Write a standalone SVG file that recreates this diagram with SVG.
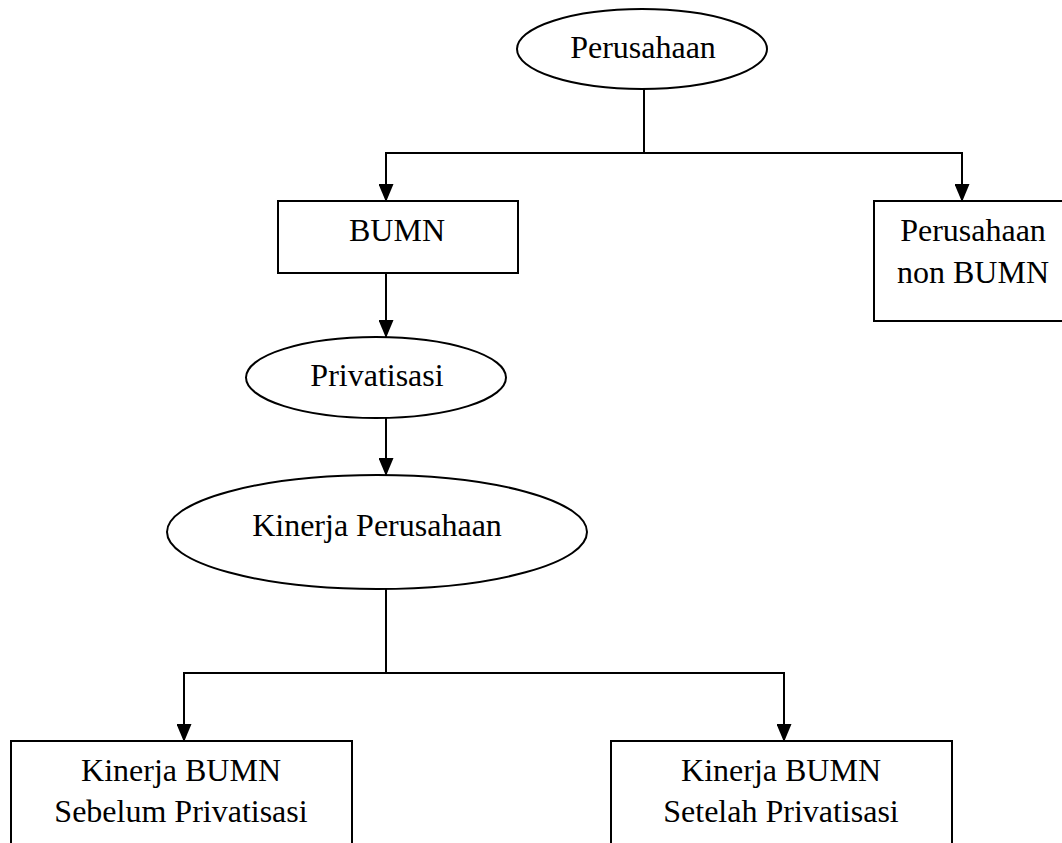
<svg xmlns="http://www.w3.org/2000/svg" width="1062" height="843" viewBox="0 0 1062 843">
<style>
.s{fill:#fff;stroke:#000;stroke-width:2}
.t{font-family:"Liberation Serif","Times New Roman",serif;font-size:32px;fill:#000;text-anchor:middle}
.c{fill:none;stroke:#000;stroke-width:2}
.a{fill:none;stroke:#000;stroke-width:2;marker-end:url(#ah)}
</style>
<defs>
<marker id="ah" markerUnits="userSpaceOnUse" markerWidth="18" markerHeight="15" viewBox="0 0 18 15" refX="17" refY="7.5" orient="auto">
<path d="M0,0 L18,7.5 L0,15 Z" fill="#000"/>
</marker>
</defs>
<rect width="1062" height="843" fill="#fff"/>
<g id="connectors">
<path class="c" d="M644,89 V153"/>
<path class="c" d="M385,153 H963"/>
<path class="a" d="M386,153 V201"/>
<path class="a" d="M962,153 V201"/>
<path class="a" d="M386,273 V337"/>
<path class="a" d="M386,418 V475"/>
<path class="c" d="M386,589 V673"/>
<path class="c" d="M183,673 H785"/>
<path class="a" d="M184,673 V741"/>
<path class="a" d="M784,673 V741"/>
</g>
<g id="perusahaan">
<ellipse class="s" cx="642" cy="49" rx="125" ry="40"/>
<text class="t" x="643" y="58">Perusahaan</text>
</g>
<g id="bumn">
<rect class="s" x="278" y="201" width="240" height="72"/>
<text class="t" x="397" y="241">BUMN</text>
</g>
<g id="non-bumn">
<rect class="s" x="874" y="201" width="200" height="120"/>
<text class="t" x="973" y="241">Perusahaan</text>
<text class="t" x="973" y="283">non BUMN</text>
</g>
<g id="privatisasi">
<ellipse class="s" cx="376" cy="377.5" rx="130" ry="40.5"/>
<text class="t" x="377" y="386">Privatisasi</text>
</g>
<g id="kinerja-perusahaan">
<ellipse class="s" cx="377" cy="532" rx="210" ry="57"/>
<text class="t" x="377" y="536">Kinerja Perusahaan</text>
</g>
<g id="sebelum">
<rect class="s" x="11" y="741" width="341" height="120"/>
<text class="t" x="181" y="781">Kinerja BUMN</text>
<text class="t" x="181" y="822">Sebelum Privatisasi</text>
</g>
<g id="setelah">
<rect class="s" x="611" y="741" width="341" height="120"/>
<text class="t" x="781" y="781">Kinerja BUMN</text>
<text class="t" x="781" y="822">Setelah Privatisasi</text>
</g>
</svg>
